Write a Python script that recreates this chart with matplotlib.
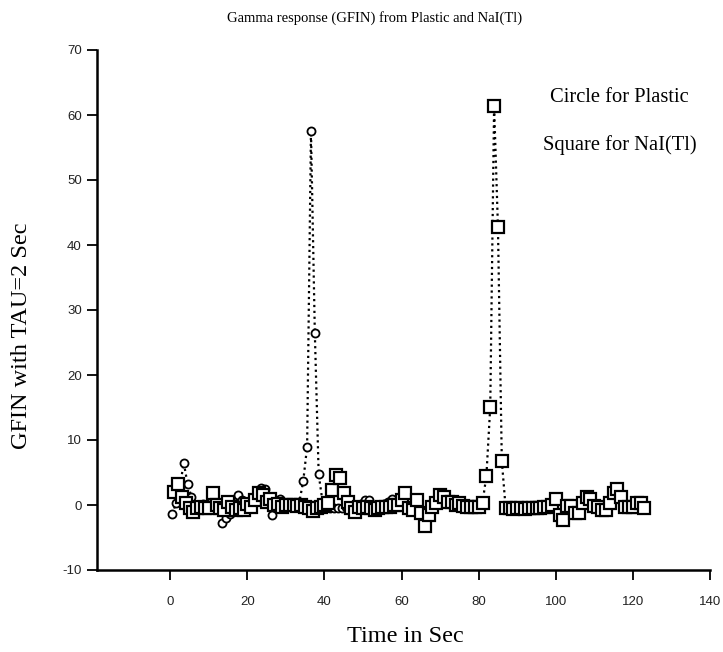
import numpy as np
import matplotlib
matplotlib.use("Agg")
import matplotlib.pyplot as plt

plt.rcParams['axes.unicode_minus'] = False

# Plastic scintillator (circles)
plastic_t = [0.5 + i for i in range(58)]
plastic_v = [-1.4, 0.3, 2.8, 6.5, 3.2, 1.3, 0.0, -0.5, 0.2, -0.3,
             0.5, -0.2, -0.8, -2.7, -2.0, -1.4, -0.3, 1.6, 0.8, 0.0,
             0.3, 0.5, 1.2, 2.6, 2.4, 0.5, -1.5, -0.5, 1.0, 0.2,
             -0.2, 0.0, 0.3, 0.5, 3.7, 9.0, 57.5, 26.5, 4.7, 0.5,
             -0.5, -0.5, -0.5, -0.4, -0.5, -0.3, 0.0, -0.3, -0.2, 0.2,
             0.7, 0.7, 0.0, -0.3, 0.0, 0.2, 0.5, 1.0]

# NaI(Tl) detector (squares)
nai_t = list(range(1, 124))
nai_v = [2.0, 3.3, 1.2, 0.3, -0.5, -1.1, -0.5, -0.3, -0.5, -0.4,
         1.9, 0.0, -0.5, -0.8, 0.5, -0.3, -0.8, -0.5, -0.8, 0.2,
         -0.3, 0.8, 1.8, 1.5, 0.5, 1.0, 0.0, 0.2, -0.3, 0.0,
         0.0, 0.0, -0.2, 0.0, -0.3, -0.5, -0.9, -0.5, -0.3, 0.0,
         0.3, 2.3, 4.6, 4.1, 1.9, 0.5, -0.5, -1.0, -0.3, -0.5,
         -0.3, -0.5, -0.8, -0.5, -0.3, -0.3, -0.3, 0.0, 0.0, 0.8,
         1.8, -0.5, -0.8, 0.7, -1.2, -3.2, -1.5, -0.3, 0.3, 1.6,
         1.3, 0.5, 0.5, 0.0, 0.3, -0.2, -0.3, -0.3, -0.3, -0.3,
         0.35, 4.5, 15.1, 61.4, 42.7, 6.8, -0.5, -0.5, -0.6, -0.5,
         -0.5, -0.6, -0.5, -0.5, -0.4, -0.5, -0.3, -0.3, 0.0, 0.9,
         -1.5, -2.3, -0.2, -0.2, -1.3, -1.2, 0.35, 1.3, 0.9, -0.2,
         -0.3, -0.8, -0.8, 0.35, 1.8, 2.5, 1.3, -0.3, -0.3, -0.3,
         0.35, 0.35, -0.4]

xticks = [0, 20, 40, 60, 80, 100, 120, 140]
yticks = [-10, 0, 10, 20, 30, 40, 50, 60, 70]

W, H = 723, 652
fig = plt.figure(figsize=(W / 100, H / 100), dpi=100)
ax = fig.add_axes([97 / W, 1 - 570 / H, (710 - 97) / W, (570 - 50) / H])

serif = ['Liberation Serif', 'DejaVu Serif']
sans = ['Liberation Sans', 'DejaVu Sans']

ax.plot(plastic_t, plastic_v, linestyle=':', color='black', lw=1.6,
        marker='o', markersize=5.8, markerfacecolor='white',
        markeredgecolor='black', markeredgewidth=1.3, zorder=3)
ax.plot(nai_t, nai_v, linestyle=':', color='black', lw=1.6,
        marker='s', markersize=8, markerfacecolor='white',
        markeredgecolor='black', markeredgewidth=1.6, zorder=4)

ax.set_xlim(-19, 140)
ax.set_ylim(-10, 70)
ax.set_xticks(xticks)
ax.set_yticks(yticks)
for lab in ax.get_xticklabels() + ax.get_yticklabels():
    lab.set_fontfamily(sans)
    lab.set_fontsize(9.5)
    lab.set_color('#222222')
ax.tick_params(axis='x', direction='out', length=7, width=1.3, pad=12)
ax.tick_params(axis='y', direction='out', length=7, width=1.3, pad=4)
ax.spines['top'].set_visible(False)
ax.spines['right'].set_visible(False)
ax.spines['left'].set_linewidth(1.8)
ax.spines['bottom'].set_linewidth(1.8)

fig.text(375 / W, 1 - 18 / H, 'Gamma response (GFIN) from Plastic and NaI(Tl)',
         ha='center', va='center', fontsize=10.5, family=serif)
fig.text(405 / W, 1 - 636 / H, 'Time in Sec', ha='center', va='center',
         fontsize=17.5, family=serif)
fig.text(22 / W, 1 - 336 / H, 'GFIN with TAU=2 Sec', ha='center', va='center',
         rotation=90, fontsize=17.5, family=serif)
fig.text(619 / W, 1 - 98 / H, 'Circle for Plastic', ha='center', va='center',
         fontsize=14.8, family=serif)
fig.text(620 / W, 1 - 145 / H, 'Square for NaI(Tl)', ha='center', va='center',
         fontsize=14.8, family=serif)

fig.savefig('out.png', dpi=100)
